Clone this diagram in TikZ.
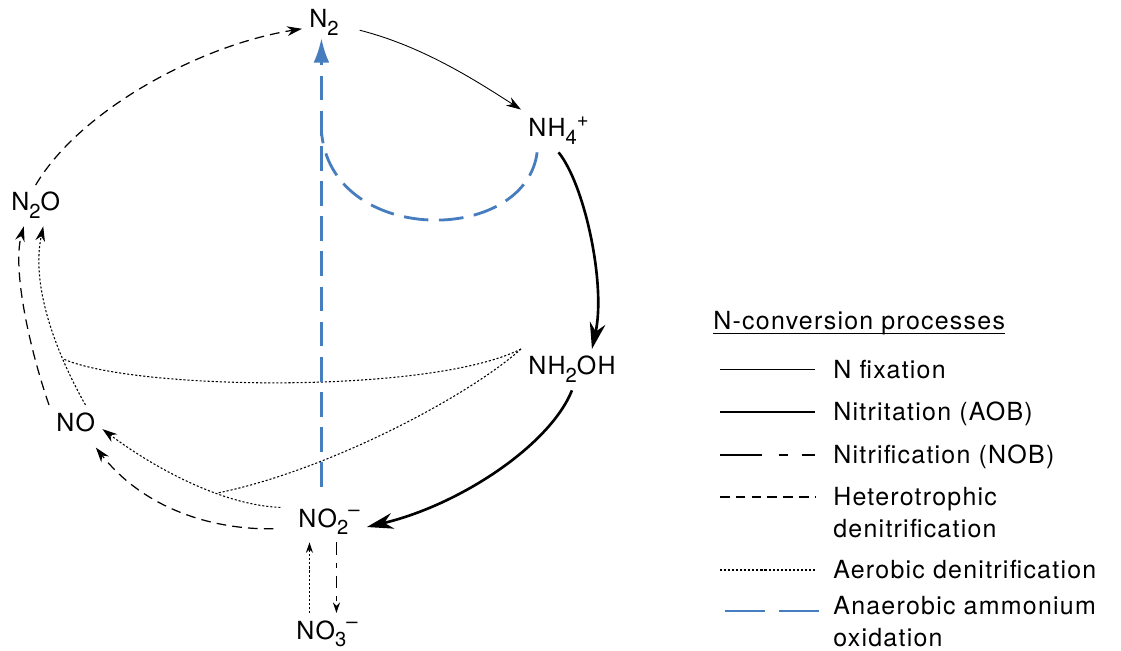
\documentclass[tikz,border=0pt]{standalone}
\usepackage{fontspec}
\setmainfont{TeX Gyre Heros}[LetterSpace=5]
\usetikzlibrary{arrows.meta}

\definecolor{amxblue}{RGB}{70,125,190}
\newcommand{\chsub}[1]{\raisebox{-0.32em}{\fontsize{11.5pt}{12pt}\selectfont #1}}
\newcommand{\chsup}[1]{\raisebox{0.42em}{\fontsize{11.5pt}{12pt}\selectfont #1}}

\begin{document}
\begin{tikzpicture}[x=0.02cm, y=-0.02cm, font=\fontsize{14.2pt}{18.2pt}\selectfont,
    chem/.style={inner sep=4pt, anchor=base west},
    legtext/.style={inner sep=0pt, anchor=base west},
    fix/.style={line width=0.5pt},
    nit/.style={line width=1.5pt},
    nob/.style={line width=0.8pt, dash pattern=on 7pt off 4.5pt on 3pt off 4.5pt},
    het/.style={line width=0.7pt, dash pattern=on 5.5pt off 3.5pt},
    aer/.style={line width=0.6pt, dash pattern=on 1.2pt off 1.1pt},
    amx/.style={amxblue, line width=1.6pt, dash pattern=on 14pt off 6pt},
    sarr/.style={-{Stealth[length=8.5pt,width=5.5pt]}},
    tarr/.style={-{Stealth[length=6pt,width=4pt]}},
    barr/.style={-{Stealth[length=15pt,width=9pt]}}]

  \useasboundingbox (0,0) rectangle (1121,651);

  % species of the cycle
  \node (n2) [chem] at (302,28) {N\chsub{2}};
  \node (nh4) [chem] at (521,137) {NH\chsub{4}\chsup{+}};
  \node (nhoh) [chem] at (521,375) {NH\chsub{2}OH};
  \node (no2) [chem] at (291,527) {NO\chsub{2}\chsup{--}};
  \node (no3) [chem] at (289,639) {NO\chsub{3}\chsup{--}};
  \node (no) [chem] at (49,431) {NO};
  \node (nno) [chem] at (4,211) {N\chsub{2}O};

  % N fixation
  \draw[fix, sarr, shorten <=8pt] (n2.-10) .. controls (422,46) and (475,80) .. (nh4.north west);

  % nitritation
  \draw[nit, barr] (nh4.south) .. controls (585,185) and (606,285) .. (nhoh.46);
  \draw[nit, barr] (nhoh.south) .. controls (550,445) and (460,505) .. (no2.-8);

  % nitrification
  \draw[nob, tarr] (no2.-70) -- (no2.-70 |- no3.north);

  % heterotrophic denitrification
  \draw[het, sarr, shorten <=10pt] (no2.190) .. controls (215,530) and (145,510) .. ([yshift=-5pt]no.-40);
  \draw[het, sarr] (no.north west) .. controls (30,350) and (12,270) .. (nno.-120);
  \draw[het, sarr] (nno.north) .. controls (80,110) and (200,45) .. (n2.195);

  % aerobic denitrification
  \draw[aer, tarr] (no3.130) -- (no3.130 |- no2.south);
  \draw[aer, sarr, shorten <=6pt] (no2.160) .. controls (220,505) and (150,465) .. (no.-15) coordinate[pos=0.35] (j2);
  \draw[aer, sarr] (no.60) .. controls (60,360) and (30,290) .. (nno.-70) coordinate[pos=0.3] (j1);
  \draw[aer] (nhoh.north west) .. controls (430,395) and (130,390) .. (j1);
  \draw[aer] (nhoh.north west) .. controls (470,395) and (330,470) .. (j2);

  % anammox
  \coordinate (amx1) at (no2.110 |- nh4.west);
  \draw[amx, -{Latex[length=14pt,width=9pt]}, shorten <=8pt, shorten >=-3pt] (no2.110) -- (no2.110 |- n2.south);
  \draw[amx] (nh4.-135) .. controls (525,246) and (330,246) .. (amx1);

  % legend
  \node (title) [legtext] at (713,330) {N-conversion processes};
  \draw[line width=0.6pt] ([yshift=-2pt]title.base west) -- ([yshift=-2pt]title.base east);

  \draw[fix] (720,369) -- (815,369);
  \node (lfix) [legtext] at (833,378) {N fixation};
  \draw[nit] (720,412) -- (815,412);
  \node (lnit) [legtext] at (833,420) {Nitritation (AOB)};
  \draw[nob, line width=1.1pt, dash pattern=on 24pt off 9.5pt on 5pt off 8pt] (720,455) -- (815,455);
  \node (lnob) [legtext] at (833,463) {Nitrification (NOB)};
  \draw[het] (720,497) -- (815,497);
  \node (lhet) [legtext, anchor=north west, align=left] at (833,487) {Heterotrophic\\denitrification};
  \draw[aer] (720,570) -- (815,570);
  \node (laer) [legtext] at (833,578) {Aerobic denitrification};
  \draw[amx, dash pattern=on 22.5pt off 8.5pt] (725,611) -- (823,611);
  \node (lamx) [legtext, anchor=north west, align=left] at (833,596) {Anaerobic ammonium\\oxidation};
\end{tikzpicture}
\end{document}
